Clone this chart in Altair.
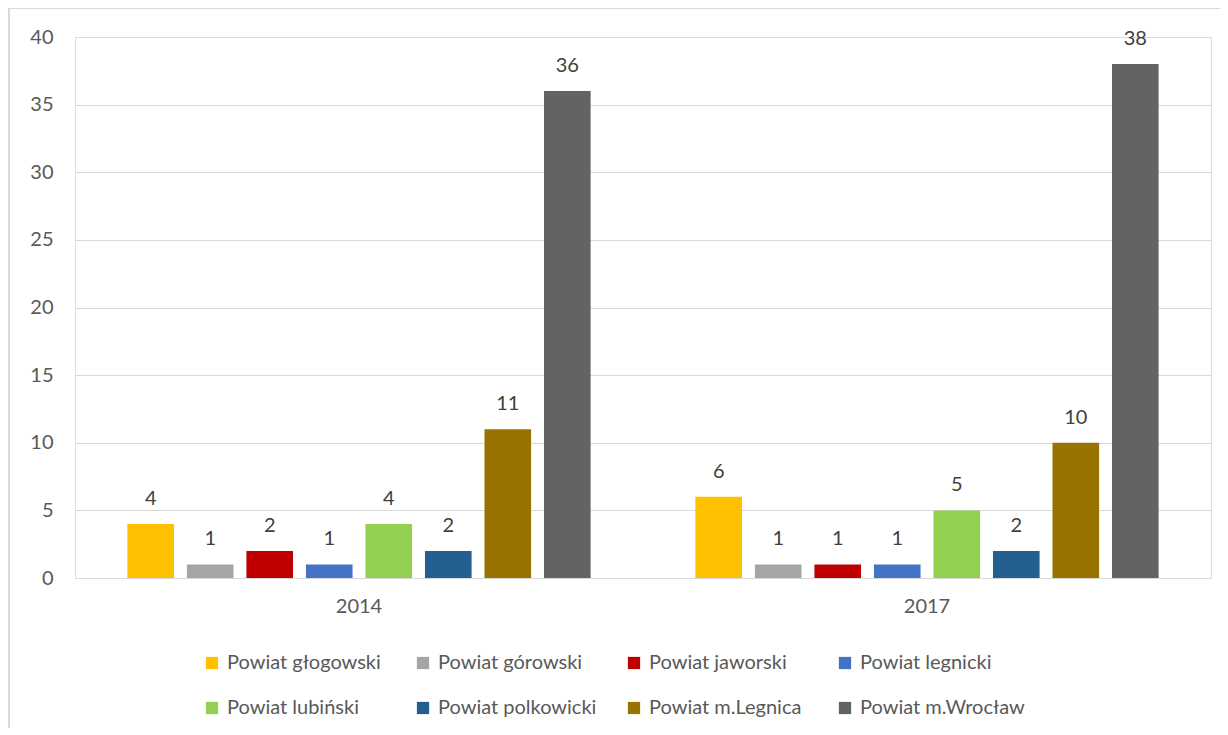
import altair as alt
import pandas as pd

years = ["2014", "2017"]
powiaty = ["Powiat głogowski", "Powiat górowski", "Powiat jaworski", "Powiat legnicki",
           "Powiat lubiński", "Powiat polkowicki", "Powiat m.Legnica", "Powiat m.Wrocław"]
values_2014 = [4, 1, 2, 1, 4, 2, 11, 36]
values_2017 = [6, 1, 1, 1, 5, 2, 10, 38]
colors = ["#FFC000", "#A5A5A5", "#C00000", "#4472C4", "#92D050", "#255E91", "#997300", "#636363"]

rows = []
for y, vals in zip(years, [values_2014, values_2017]):
    for p, v in zip(powiaty, vals):
        rows.append({"rok": y, "powiat": p, "wartosc": v})
df = pd.DataFrame(rows)

# legend fills column by column; interleave so it reads row by row (4 per row)
leg_order = [0, 4, 1, 5, 2, 6, 3, 7]
leg_domain = [powiaty[i] for i in leg_order]
leg_range = [colors[i] for i in leg_order]

FONT = "Lato"
FS = 20
W, H = 1136, 541

x_enc = alt.X("rok:N", sort=years, title=None,
              scale=alt.Scale(paddingInner=0, paddingOuter=0),
              axis=alt.Axis(labelAngle=0, ticks=False, labelPadding=18, labelFontSize=FS,
                            labelColor="#595959", domainColor="#D9D9D9", labelFont=FONT))
xoff = alt.XOffset("powiat:N", sort=powiaty,
                   scale=alt.Scale(paddingInner=0.2167, paddingOuter=0.88))
y_enc = alt.Y("wartosc:Q", title=None,
              scale=alt.Scale(domain=[0, 40], nice=False),
              axis=alt.Axis(values=list(range(0, 41, 5)), ticks=False, domain=False,
                            labelPadding=22, labelFontSize=FS, labelColor="#595959",
                            gridColor="#D9D9D9", labelFont=FONT))

bars = alt.Chart(df).mark_bar().encode(
    x=x_enc, xOffset=xoff, y=y_enc,
    color=alt.Color("powiat:N", title=None,
                    scale=alt.Scale(domain=leg_domain, range=leg_range),
                    legend=alt.Legend(orient="none", legendX=127, legendY=616, columns=4,
                                      symbolType="square", symbolSize=150, symbolStrokeWidth=0,
                                      labelFontSize=FS, labelColor="#595959", labelFont=FONT,
                                      columnPadding=21, rowPadding=25, gridAlign="all",
                                      labelOffset=5, labelLimit=300))
)

labels = alt.Chart(df).mark_text(baseline="middle", dy=-25, fontSize=FS, color="#404040",
                                 font=FONT).encode(
    x=alt.X("rok:N", sort=years), xOffset=alt.XOffset("powiat:N", sort=powiaty),
    y="wartosc:Q", text="wartosc:Q"
)

frame_left = alt.Chart(df).mark_rule(color="#D9D9D9", strokeWidth=1.5).encode(
    x=alt.value(-66), y=alt.value(-29), y2=alt.value(H + 170))
frame_top = alt.Chart(df).mark_rule(color="#D9D9D9", strokeWidth=1.5).encode(
    x=alt.value(-66), x2=alt.value(W + 20), y=alt.value(-29))

chart = alt.layer(bars, labels, frame_left, frame_top).properties(
    width=W, height=H,
    autosize=alt.AutoSizeParams(type="none"),
    padding={"left": 67, "top": 29, "right": 9, "bottom": 150},
).configure_view(stroke=None).configure(font=FONT)

chart.save("out.html", embed_options={"renderer": "svg", "actions": False})
